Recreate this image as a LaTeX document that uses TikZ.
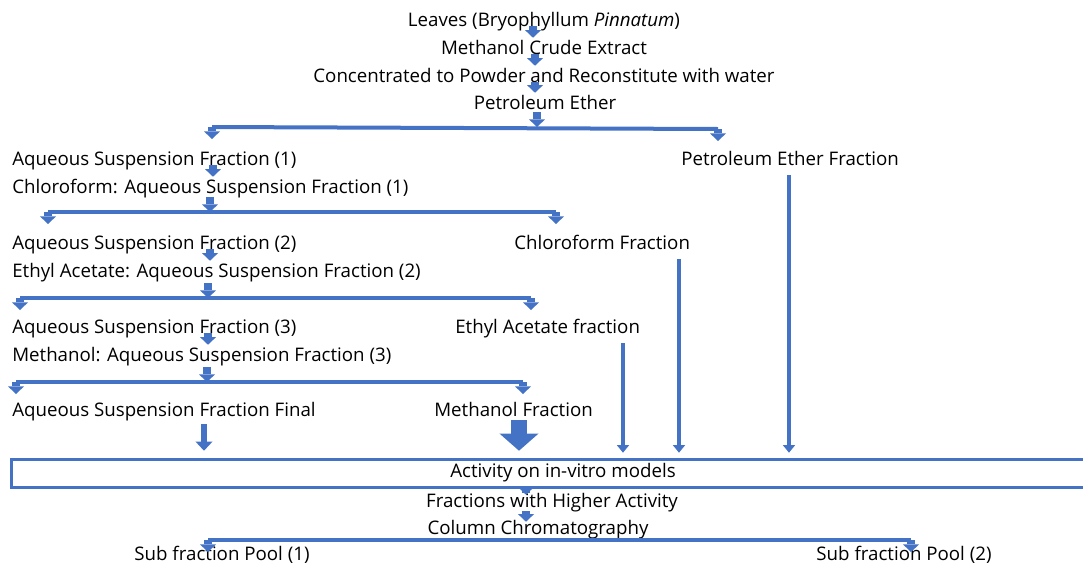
\documentclass[tikz,border=0pt]{standalone}
\usepackage{fontspec}
\setmainfont{Open Sans}
\usetikzlibrary{arrows.meta}
\definecolor{flowblue}{HTML}{4472C4}
\tikzset{
  txt/.style={font=\fontsize{13.3}{15}\selectfont, inner sep=0pt, text height=0.4cm, text depth=0pt},
  txtb/.style={txt, text height=0.3cm},
  bar/.style={draw=flowblue, line width=0.1cm},
  flow/.style={draw=flowblue, line width=0.18cm, -{Triangle[width=0.4cm,length=0.19cm,line width=0pt]}},
  longflow/.style={draw=flowblue, line width=0.11cm, -{Triangle[width=0.31cm,length=0.19cm,line width=0pt]}},
  midflow/.style={draw=flowblue, line width=0.17cm, -{Triangle[width=0.43cm,length=0.23cm,line width=0pt]}},
  bigflow/.style={draw=flowblue, line width=0.4cm, -{Triangle[width=0.98cm,length=0.43cm,line width=0pt]}},
  actbox/.style={draw=flowblue, line width=0.075cm, minimum width=27.55cm, minimum height=0.7cm, inner sep=0pt, font=\fontsize{13.3}{15}\selectfont}
}
\begin{document}
\begin{tikzpicture}[x=0.025cm,y=-0.025cm]
\useasboundingbox (0,0) rectangle (1083,567);
% main chain
\node[txt,anchor=base] (leaves) at (544,26) {Leaves (Bryophyllum \textit{Pinnatum})};
\node[txt,anchor=base] (crude) at (544,54) {Methanol Crude Extract};
\node[txt,anchor=base] (conc) at (544,82) {Concentrated to Powder and Reconstitute with water};
\node[txt,anchor=base] (pe) at (545,109) {Petroleum Ether};
% fractions
\node[txt,anchor=base west] (asf1) at (12,165) {Aqueous Suspension Fraction (1)};
\node[txt,anchor=base west] (pef) at (681,165) {Petroleum Ether Fraction};
\node[txt,anchor=base west] (chl) at (12,193) {Chloroform: Aqueous Suspension Fraction (1)};
\node[txt,anchor=base west] (asf2) at (12,249) {Aqueous Suspension Fraction (2)};
\node[txt,anchor=base west] (cf) at (514,249) {Chloroform Fraction};
\node[txt,anchor=base west] (eth) at (12,277) {Ethyl Acetate: Aqueous Suspension Fraction (2)};
\node[txt,anchor=base west] (asf3) at (12,333) {Aqueous Suspension Fraction (3)};
\node[txt,anchor=base west] (eaf) at (455,333) {Ethyl Acetate fraction};
\node[txt,anchor=base west] (meth) at (12,361) {Methanol: Aqueous Suspension Fraction (3)};
\node[txt,anchor=base west] (asff) at (12,416) {Aqueous Suspension Fraction Final};
\node[txt,anchor=base west] (mf) at (434,416) {Methanol Fraction};
% activity and pools
\node[actbox] (act) at (563,473) {Activity on in-vitro models};
\node[txtb,anchor=base] (fha) at (552,507) {Fractions with Higher Activity};
\node[txtb,anchor=base] (cc) at (538,534) {Column Chromatography};
\node[txtb,anchor=base] (sp1) at (222,560) {Sub fraction Pool (1)};
\node[txtb,anchor=base] (sp2) at (904,560) {Sub fraction Pool (2)};
% split points
\coordinate (p1l) at (212,127); \coordinate (p1r) at (718,129);
\coordinate (p2l) at (48,212);  \coordinate (p2r) at (556,212);
\coordinate (p3l) at (20,298);  \coordinate (p3r) at (531,298);
\coordinate (p4l) at (16,382);  \coordinate (p4r) at (523,382);
\coordinate (p5l) at (208,540); \coordinate (p5r) at (911,540);
\foreach \l/\r in {p1l/p1r,p2l/p2r,p3l/p3r,p4l/p4r,p5l/p5r}{
  \draw[bar] (\l) -- (\r);
  \draw[flow] (\l) -- ++(0,12);
  \draw[flow] (\r) -- ++(0,12);
}
% chain arrows
\draw[flow] (533,0 |- leaves.south) -- (533,0 |- crude.north);
\draw[flow] (535,0 |- crude.south) -- (535,0 |- conc.north);
\draw[flow] (535,0 |- conc.south) -- (535,0 |- pe.north);
\draw[flow,shorten <=0.07cm] (537,0 |- pe.south) -- (537,0 |- p1l);
\draw[flow] (213,0 |- asf1.south) -- (213,0 |- chl.north);
\draw[flow,shorten <=0.1cm] (210,0 |- chl.south) -- (210,0 |- p2l);
\draw[flow] (210,0 |- asf2.south) -- (210,0 |- eth.north);
\draw[flow,shorten <=0.15cm] (208,0 |- eth.south) -- (208,0 |- p3l);
\draw[flow] (208,0 |- asf3.south) -- (208,0 |- meth.north);
\draw[flow,shorten <=0.15cm] (207,0 |- meth.south) -- (207,0 |- p4l);
% into the activity box
\draw[midflow,shorten <=0.2cm,shorten >=0.17cm] (204,0 |- asff.south) -- (204,0 |- act.north);
\draw[bigflow,shorten <=0.1cm,shorten >=0.17cm] (519,0 |- mf.south) -- (519,0 |- act.north);
\draw[longflow,shorten <=0.25cm,shorten >=0.12cm] (623,0 |- eaf.south) -- (623,0 |- act.north);
\draw[longflow,shorten <=0.25cm,shorten >=0.12cm] (679,0 |- cf.south) -- (679,0 |- act.north);
\draw[longflow,shorten <=0.25cm,shorten >=0.12cm] (789,0 |- pef.south) -- (789,0 |- act.north);
\draw[flow,shorten <=-0.1cm] (526,0 |- act.south) -- (526,0 |- fha.north);
\draw[flow,shorten <=0.1cm] (526,0 |- fha.south) -- (526,0 |- cc.north);
\end{tikzpicture}
\end{document}
